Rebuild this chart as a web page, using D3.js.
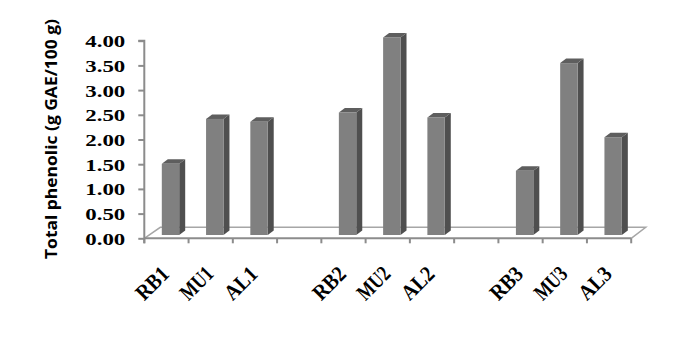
<!DOCTYPE html>
<html><head><meta charset="utf-8">
<script src="https://cdn.jsdelivr.net/npm/d3@7"></script>
<style>body{margin:0;background:#fff}svg{display:block}</style>
</head><body>
<script>
const categories = ["RB1","MU1","AL1","","RB2","MU2","AL2","","RB3","MU3","AL3"];
const values = [1.44,2.35,2.29,null,2.48,4.00,2.38,null,1.30,3.48,1.98];
const yTickValues = [0,0.5,1,1.5,2,2.5,3,3.5,4];
const yTitle = "Total phenolic (g GAE/100 g)";

const W=688,H=338;
const svg=d3.select("body").append("svg").attr("width",W).attr("height",H);
const x=d3.scaleBand().domain(d3.range(categories.length)).range([144.3,631.2]).padding(0);
const y=d3.scaleLinear().domain([0,4]).range([238.3,40.7]);
const bw=x.bandwidth();
const depth={dx:16,dy:-11};
const y0=y(0);

// floor
const xL=x.range()[0], xR=x.range()[1];
svg.append("path")
  .attr("d",`M${xL},${y0}L${xL+depth.dx},${y0+depth.dy}L${xR+14.5},${y0+depth.dy}L${xR},${y0}`)
  .attr("fill","#fff").attr("stroke","#a6a6a6").attr("stroke-width",1.5);

// x ticks
const bounds=d3.range(categories.length+1).map(i=>i<categories.length?x(i):xR);
svg.selectAll("line.xt").data(bounds).enter().append("line")
  .attr("x1",d=>d).attr("x2",d=>d).attr("y1",y0).attr("y2",y0+5)
  .attr("stroke","#8c8c8c").attr("stroke-width",2);
svg.append("line").attr("x1",xL).attr("x2",xR).attr("y1",y0).attr("y2",y0)
  .attr("stroke","#8c8c8c").attr("stroke-width",2);

// y axis
const yAxis=d3.axisLeft(y).tickValues(yTickValues).tickFormat(d3.format(".2f")).tickSize(6).tickPadding(13);
const gy=svg.append("g").attr("transform",`translate(${xL},0)`).call(yAxis);
gy.select(".domain").attr("stroke","#8c8c8c").attr("stroke-width",2).attr("d",`M-6,${y(4)}H0V${y0+5}`);
gy.selectAll(".tick line").attr("stroke","#8c8c8c").attr("stroke-width",2);
gy.selectAll(".tick text").attr("font-family","Liberation Serif").attr("font-weight","bold")
  .attr("font-size",16).attr("fill","#000").attr("dy","0.38em")
  .attr("textLength",40).attr("lengthAdjust","spacingAndGlyphs");

// bars
const off=17.5, fw=17.4, sdx=6, sdy=-4.5, base=y0-3.3;
const bars=svg.selectAll("g.bar").data(values.map((v,i)=>({v,i})).filter(d=>d.v!=null)).enter().append("g");
bars.each(function(d){
  const g=d3.select(this);
  const x0=x(d.i)+off, top=base-(y0-y(d.v));
  g.append("path").attr("d",`M${x0+fw},${base}L${x0+fw+sdx},${base+sdy}L${x0+fw+sdx},${top+sdy}L${x0+fw},${top}Z`).attr("fill","#4f4f4f");
  g.append("path").attr("d",`M${x0},${top}L${x0+sdx},${top+sdy}L${x0+fw+sdx},${top+sdy}L${x0+fw},${top}Z`).attr("fill","#5e5e5e");
  g.append("rect").attr("x",x0).attr("y",top).attr("width",fw).attr("height",base-top).attr("fill","#808080");
});

// x labels
svg.selectAll("text.xl").data(categories.map((c,i)=>({c,i})).filter(d=>d.c)).enter().append("text")
  .attr("transform",d=>`translate(${x(d.i)+bw/2+4},${y0+37}) rotate(-45)`)
  .attr("text-anchor","end").attr("font-family","Liberation Serif").attr("font-weight","bold")
  .attr("font-size",22).attr("fill","#000")
  .attr("textLength",37).attr("lengthAdjust","spacingAndGlyphs").text(d=>d.c);

// y title
svg.append("text").attr("transform",`translate(57,139) rotate(-90)`)
  .attr("text-anchor","middle").attr("font-family","Open Sans").attr("font-weight","bold")
  .attr("font-size",16).attr("fill","#000")
  .attr("textLength",240).attr("lengthAdjust","spacingAndGlyphs").text(yTitle);
</script>
</body></html>
